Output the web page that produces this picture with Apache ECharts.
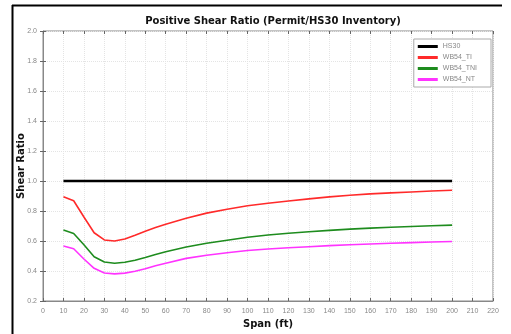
<!DOCTYPE html>
<html><head><meta charset="utf-8">
<script src="https://cdn.jsdelivr.net/npm/echarts@6/dist/echarts.min.js"></script>
<style>html,body{margin:0;padding:0;background:#fff}#c{width:511px;height:334px}</style>
</head><body><div id="c"></div>
<script>
const spans = [10,15,20,25,30,35,40,45,50,55,60,70,80,90,100,110,120,130,140,150,160,170,180,190,200];
const hs30  = [1,1,1,1,1,1,1,1,1,1,1,1,1,1,1,1,1,1,1,1,1,1,1,1,1];
const wb54TI  = [0.895,0.868,0.760,0.655,0.607,0.600,0.613,0.638,0.665,0.690,0.712,0.752,0.786,0.812,0.835,0.852,0.867,0.881,0.894,0.905,0.914,0.921,0.927,0.933,0.938];
const wb54TNI = [0.673,0.650,0.575,0.495,0.460,0.452,0.458,0.472,0.490,0.510,0.528,0.560,0.585,0.605,0.625,0.640,0.652,0.662,0.671,0.679,0.686,0.692,0.697,0.702,0.706];
const wb54NT  = [0.567,0.548,0.480,0.418,0.387,0.381,0.386,0.398,0.415,0.435,0.452,0.484,0.505,0.522,0.537,0.547,0.555,0.562,0.569,0.575,0.580,0.585,0.589,0.593,0.597];
const seriesNames = ['HS30','WB54_TI','WB54_TNI','WB54_NT'];
const seriesColors = ['#000000','#ff2a2a','#1e8c1e','#ff33ff'];
const seriesWidths = [2.5,1.6,1.6,1.6];
const title = 'Positive Shear Ratio (Permit/HS30 Inventory)';

const pair = arr => spans.map((s,i)=>[s,arr[i]]);
const allData = [hs30, wb54TI, wb54TNI, wb54NT];

const chart = echarts.init(document.getElementById('c'), null, {renderer:'canvas'});
const axisLbl = {color:'#888', fontSize:7, fontFamily:'Liberation Sans'};
chart.setOption({
  animation:false,
  backgroundColor:'#fff',
  title:{text:title, left:268, top:11, textAlign:'center',
    textStyle:{fontSize:10, fontWeight:'bold', color:'#111', fontFamily:'DejaVu Sans'}},
  grid:{left:43, right:18, top:31, bottom:32, show:true, borderColor:'#888', borderWidth:1, backgroundColor:'transparent'},
  legend:{
    data:seriesNames, orient:'vertical', right:20, top:39,
    itemWidth:20, itemHeight:3, itemGap:4,
    backgroundColor:'#fff', borderColor:'#aaa', borderWidth:1, padding:[4,14,4,4],
    textStyle:{color:'#888', fontSize:7, fontFamily:'Liberation Sans'},
    icon:'rect'
  },
  xAxis:[{
    type:'value', min:0, max:220, interval:10,
    name:'Span (ft)', nameLocation:'middle', nameGap:18, nameMoveOverlap:false,
    nameTextStyle:{fontSize:10, fontWeight:'bold', color:'#111', fontFamily:'DejaVu Sans'},
    axisLine:{show:true, lineStyle:{color:'#888'}},
    axisTick:{show:true, inside:true, length:3, lineStyle:{color:'#666'}},
    axisLabel:Object.assign({margin:7}, axisLbl),
    splitLine:{show:true, lineStyle:{color:'#e4e4e4', type:'dotted'}}
  },{
    type:'value', min:0, max:220, interval:10, position:'top',
    axisLine:{show:false}, axisTick:{show:true, inside:true, length:3, lineStyle:{color:'#666'}},
    axisLabel:{show:false}, splitLine:{show:false}
  }],
  yAxis:[{
    type:'value', min:0.2, max:2.0, interval:0.2,
    name:'Shear Ratio', nameLocation:'middle', nameGap:17, nameMoveOverlap:false,
    nameTextStyle:{fontSize:10, fontWeight:'bold', color:'#111', fontFamily:'DejaVu Sans'},
    axisLine:{show:true, lineStyle:{color:'#888'}},
    axisTick:{show:true, inside:true, length:3, lineStyle:{color:'#666'}},
    axisLabel:Object.assign({margin:6, formatter:v=>v.toFixed(1)}, axisLbl),
    splitLine:{show:true, lineStyle:{color:'#e4e4e4', type:'dotted'}}
  },{
    type:'value', min:0.2, max:2.0, interval:0.2, position:'right',
    axisLine:{show:false}, axisTick:{show:true, inside:true, length:3, lineStyle:{color:'#666'}},
    axisLabel:{show:false}, splitLine:{show:false}
  }],
  series: seriesNames.map((n,i)=>({
    name:n, type:'line', data:pair(allData[i]), showSymbol:false, symbol:'none',
    lineStyle:{color:seriesColors[i], width:seriesWidths[i]}, itemStyle:{color:seriesColors[i]},
    z: 10-i
  })),
  graphic:[
    {type:'line', shape:{x1:12.5, y1:5, x2:12.5, y2:334}, style:{stroke:'#000', lineWidth:2}},
    {type:'line', shape:{x1:12, y1:5.5, x2:502, y2:5.5}, style:{stroke:'#000', lineWidth:2}}
  ]
});
</script></body></html>
